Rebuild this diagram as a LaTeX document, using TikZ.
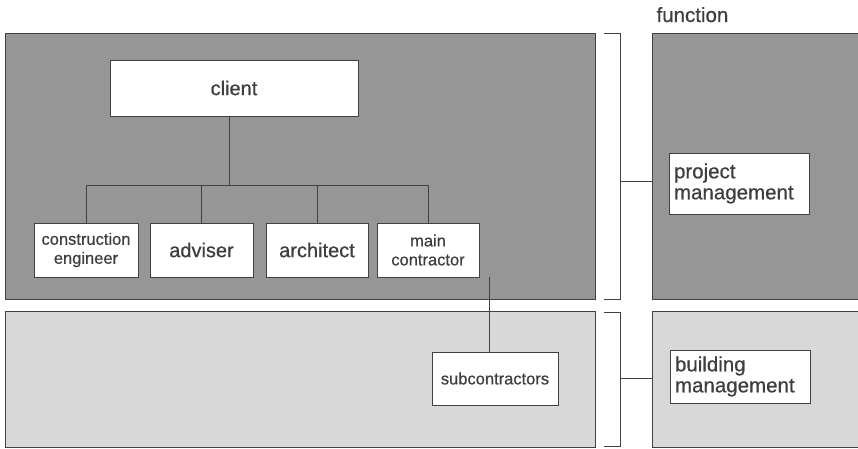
\documentclass[tikz,border=0pt]{standalone}
\usepackage{fontspec}
\setmainfont{Liberation Sans}[AutoFakeBold=0.6]
\usepackage{tikz}
\usetikzlibrary{positioning}
\definecolor{PanelDark}{RGB}{150, 150, 150}
\definecolor{PanelLight}{RGB}{216, 216, 216}
\definecolor{LineGray}{RGB}{65, 65, 65}
\definecolor{TextGray}{RGB}{62, 62, 62}

\begin{document}
\begin{tikzpicture}[x=1pt, y=-1pt,
    every node/.style={text=TextGray},
    panel/.style={rectangle, draw=LineGray, line width=0.8pt, inner sep=0pt, anchor=north west},
    orgbox/.style={rectangle, draw=LineGray, fill=white, line width=0.9pt, inner sep=0pt, align=center},
    bigtext/.style={font=\fontsize{20}{22}\selectfont\bfseries},
    smalltext/.style={font=\fontsize{16.5}{19}\selectfont\bfseries},
    functext/.style={font=\fontsize{20.5}{21}\selectfont\bfseries},
    link/.style={draw=LineGray, line width=0.9pt}
  ]
  \path[clip] (0,0) rectangle (858,449);
  \fill[white] (0,0) rectangle (858,449);

  % panels
  \node[panel, fill=PanelDark, minimum width=590pt, minimum height=266pt] (orgtop) at (5,33) {};
  \node[panel, fill=PanelLight, minimum width=590pt, minimum height=136pt] (orgbot) at (5,311) {};
  \node[panel, fill=PanelDark, minimum width=230pt, minimum height=266pt] (functop) at (652,33) {};
  \node[panel, fill=PanelLight, minimum width=230pt, minimum height=136pt] (funcbot) at (652,311) {};

  \node[anchor=base west, functext] (funclabel) at (653,22) {function};

  % organisation
  \node[orgbox, bigtext, minimum width=248pt, minimum height=56pt] (client) at (234,88) {client};
  \node[orgbox, smalltext, minimum width=104pt, minimum height=54pt] (coneng) at (86,250) {construction\\engineer};
  \node[orgbox, bigtext, minimum width=103pt, minimum height=54pt] (adviser) at (201.5,250) {adviser};
  \node[orgbox, bigtext, minimum width=102pt, minimum height=54pt] (architect) at (317,250) {architect};
  \node[orgbox, smalltext, minimum width=102pt, minimum height=54pt] (maincon) at (428,250) {main\\contractor};
  \node[orgbox, smalltext, minimum width=126pt, minimum height=53pt] (subcon) at (495,378.5) {subcontractors};

  \coordinate (bus) at (0,185);
  \draw[link] ([xshift=-5pt]client.south) -- ([xshift=-5pt]client.south |- bus);
  \draw[link] (coneng.north) -- (coneng.north |- bus) -- (maincon.north |- bus) -- (maincon.north);
  \draw[link] (adviser.north) -- (adviser.north |- bus);
  \draw[link] (architect.north) -- (architect.north |- bus);
  \draw[link] ([xshift=-6pt]subcon.north) -- ([xshift=-6pt]subcon.north |- maincon.south);

  % functions
  \node[orgbox, functext, align=left, minimum width=140pt, minimum height=61pt, text width=130pt] (projman) at (739,183.5) {project\\management};
  \node[orgbox, functext, align=left, minimum width=140pt, minimum height=53pt, text width=130pt] (buildman) at (740,376.5) {building\\management};

  % brackets
  \draw[link] (604,33) coordinate (brtopa) -- (620,33) -- (620,299) -- (604,299);
  \draw[link] (620,181) coordinate (brtopm) -- (functop.west |- brtopm);
  \draw[link] (604,312) coordinate (brbota) -- (620,312) -- (620,446) -- (604,446);
  \draw[link] (620,378) coordinate (brbotm) -- (funcbot.west |- brbotm);
\end{tikzpicture}
\end{document}
